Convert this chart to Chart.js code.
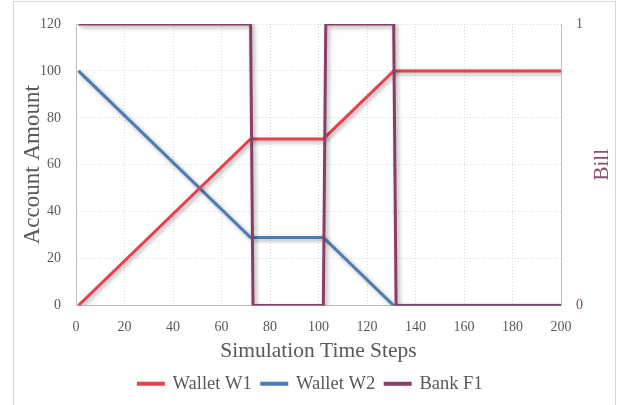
<!DOCTYPE html>
<html>
<head>
<meta charset="utf-8">
<script src="https://cdn.jsdelivr.net/npm/chart.js@4/dist/chart.umd.min.js"></script>
<style>
  body { margin: 0; background: #fff; }
  #frame { position: absolute; left: 13px; top: 1px; width: 601px; height: 420px; border: 1px solid #d9d9d9; }
  #wrap { position: absolute; left: 0; top: 0; width: 621px; height: 405px; }
</style>
</head>
<body>
<div id="frame"></div>
<div id="wrap"><canvas id="plot"></canvas></div>
<script>
// time steps and values
var w1Steps = [1, 72, 102, 131, 200];
var w1Values = [0, 71, 71, 100, 100];
var w2Steps = [1, 72, 102, 131, 200];
var w2Values = [100, 29, 29, 0, 0];
var bankSteps = [1, 72, 73, 102, 103, 131, 132, 200];
var bankValues = [1, 1, 0, 0, 1, 1, 0, 0];

var labels = ['Wallet W1', 'Wallet W2', 'Bank F1'];
var colors = ['#E8404C', '#4A7DB7', '#8A3D69'];

function toPoints(xs, ys) {
    var pts = [];
    for (var i = 0; i < xs.length; i++) pts.push({ x: xs[i], y: ys[i] });
    return pts;
}

var serif = "'Liberation Serif', 'DejaVu Serif', serif";
var gray = '#595959';
var billColor = '#8B4F73';

// excel-ish drop shadow under the lines
var shadowPlugin = {
    id: 'shadow',
    beforeDatasetDraw: function (chart) {
        var ctx = chart.ctx;
        ctx.save();
        ctx.shadowColor = 'rgba(0,0,0,0.35)';
        ctx.shadowBlur = 4;
        ctx.shadowOffsetX = 2;
        ctx.shadowOffsetY = 2;
    },
    afterDatasetDraw: function (chart) {
        chart.ctx.restore();
    }
};

// right axis title reads bottom-to-top in the original
var billTitle = {
    id: 'billTitle',
    afterDraw: function (chart) {
        var ctx = chart.ctx;
        var area = chart.chartArea;
        ctx.save();
        ctx.translate(602, (area.top + area.bottom) / 2);
        ctx.rotate(-Math.PI / 2);
        ctx.fillStyle = billColor;
        ctx.font = '21px ' + serif;
        ctx.textAlign = 'center';
        ctx.textBaseline = 'middle';
        ctx.fillText('Bill', 0, 0);
        ctx.restore();
    }
};

var ctx = document.getElementById('plot').getContext('2d');
var chart = new Chart(ctx, {
    type: 'line',
    data: {
        datasets: [{
            label: labels[0],
            data: toPoints(w1Steps, w1Values),
            borderColor: colors[0],
            backgroundColor: colors[0],
            yAxisID: 'y'
        }, {
            label: labels[1],
            data: toPoints(w2Steps, w2Values),
            borderColor: colors[1],
            backgroundColor: colors[1],
            yAxisID: 'y'
        }, {
            label: labels[2],
            data: toPoints(bankSteps, bankValues),
            borderColor: colors[2],
            backgroundColor: colors[2],
            yAxisID: 'y1',
            order: -1
        }]
    },
    options: {
        responsive: true,
        maintainAspectRatio: false,
        animation: false,
        elements: {
            line: { borderWidth: 3, tension: 0 },
            point: { radius: 0 }
        },
        layout: { padding: { top: 24, bottom: 2, left: 0, right: 0 } },
        plugins: {
            tooltip: { enabled: false },
            legend: {
                position: 'bottom',
                labels: {
                    boxWidth: 25,
                    boxHeight: 1,
                    padding: 10,
                    color: gray,
                    font: { family: serif, size: 18.5 },
                    sort: function (a, b) { return a.datasetIndex - b.datasetIndex; }
                }
            }
        },
        scales: {
            x: {
                type: 'linear',
                min: 0,
                max: 200,
                ticks: { stepSize: 20, color: gray, padding: 13, font: { family: serif, size: 14 }, maxRotation: 0 },
                grid: { color: '#d9d9d9', drawTicks: false },
                border: { color: '#bfbfbf', dash: [1, 2] },
                title: { display: true, text: 'Simulation Time Steps', color: gray, font: { family: serif, size: 21.5 }, padding: { top: 4, bottom: 0 } },
                afterFit: function (scale) { scale.height = 59; }
            },
            y: {
                position: 'left',
                min: 0,
                max: 120,
                ticks: { stepSize: 20, color: gray, padding: 15, font: { family: serif, size: 14 } },
                grid: { color: '#d9d9d9', drawTicks: false },
                border: { color: '#bfbfbf', dash: [1, 2] },
                title: { display: true, text: 'Account Amount', color: gray, font: { family: serif, size: 23 }, padding: { top: 19, bottom: 0 } },
                afterFit: function (scale) { scale.width = 76; }
            },
            y1: {
                position: 'right',
                min: 0,
                max: 1,
                ticks: { stepSize: 1, color: '#8A3D69', padding: 15, font: { family: serif, size: 14 } },
                grid: { drawOnChartArea: false, drawTicks: false },
                border: { color: '#bfbfbf' },
                afterFit: function (scale) { scale.width = 60; }
            }
        }
    },
    plugins: [shadowPlugin, billTitle]
});
</script>
</body>
</html>
